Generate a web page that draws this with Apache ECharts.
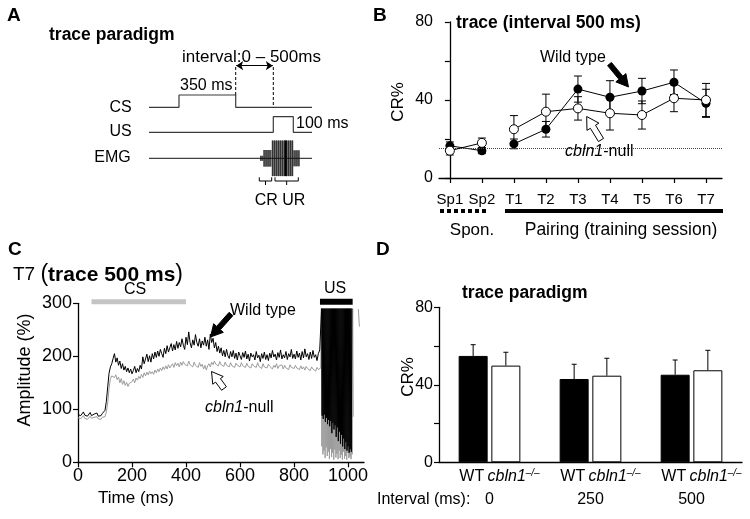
<!DOCTYPE html>
<html>
<head>
<meta charset="utf-8">
<script src="https://cdn.jsdelivr.net/npm/echarts@6/dist/echarts.min.js"></script>
<style>
html,body{margin:0;padding:0;background:#fff;}
#chart{width:750px;height:519px;}
</style>
</head>
<body>
<div id="chart"></div>
<script>
// ---------------- Panel A (schematic, arbitrary time units) ----------------
const aCsTimes = [0, 30, 30, 86.7, 86.7, 163];
const aCsLevels = [9.27, 9.27, 10.5, 10.5, 9.27, 9.27];
const aUsTimes = [0, 124.3, 124.3, 144.3, 144.3, 163];
const aUsLevels = [6.77, 6.77, 8.33, 8.33, 6.77, 6.77];
const aEmgTimes = [0, 163];
const aEmgBaseline = 4.17;
const aEmgBurstStart = [111, 114.3, 122.7, 144.3];
const aEmgBurstEnd = [114.3, 122.7, 144.3, 151];
const aEmgBurstAmp = [0.25, 0.83, 1.78, 0.8];
const aEmgPeakTime = 136.7;
const aIntervalTimes = [86.7, 124.3];
const aIntervalTop = 13.3;
const aIntervalBottoms = [10.5, 9.27];
const aArrowLevel = 13.43;

// ---------------- Panel B ----------------
const bCategories = ['Sp1', 'Sp2', 'T1', 'T2', 'T3', 'T4', 'T5', 'T6', 'T7'];
const bWildType = [16.5, 14, 17.5, 25, 45.6, 41.4, 44.6, 49.1, 38.3];
const bWildTypeErr = [2, 1.5, 2.5, 4, 6.7, 8.5, 6.5, 6.3, 7.2];
const bNull = [14, 18, 25, 34, 35.7, 33.2, 32.3, 40.9, 40];
const bNullErr = [2.2, 2.5, 7, 9, 6, 8.6, 7.2, 6.9, 8.5];
const bChanceLevel = 15.5;
const bSponCount = 2;

// ---------------- Panel C (T7 traces, 5 ms samples) ----------------
const cTimeStepMs = 5;
const cWildType = [
  90,93,88,91,95,89,92,87,90,94,88,86,91,89,93,87,90,88,92,95,
  98,115,142,168,180,186,196,205,189,197,183,191,177,186,174,181,171,178,169,176,
  167,173,181,169,177,171,183,176,199,186,195,204,190,201,189,205,195,208,198,210,
  200,213,205,198,215,205,220,208,216,224,210,222,212,228,215,226,218,233,221,213,
  236,222,246,226,216,231,221,241,226,219,233,216,229,221,236,219,231,213,242,226,
  234,216,226,209,219,206,216,201,211,199,213,201,196,209,199,211,196,206,193,208,
  201,194,207,198,210,195,204,191,206,199,203,193,209,197,202,190,205,196,208,194,
  203,192,206,197,211,199,204,193,207,198,212,195,203,197,209,194,205,199,213,196,
  204,195,210,198,206,193,209,197,214,199,205,194,208,196,211,198,203,192,205,212
];
const cNull = [
  84,86,82,85,88,83,86,81,84,87,83,80,85,83,86,82,84,81,85,83,
  86,95,112,140,158,163,166,160,165,156,161,150,158,147,154,145,151,143,149,146,
  152,157,150,159,155,162,158,166,160,169,163,170,165,172,167,171,166,174,169,176,
  171,178,173,180,175,182,176,184,178,181,186,179,188,182,187,180,189,183,190,185,
  188,182,191,184,187,180,189,183,186,179,188,181,185,176,183,174,182,186,180,189,
  184,191,185,188,182,190,184,187,181,189,183,186,180,188,182,185,179,187,183,186,
  180,188,182,185,179,187,181,184,178,186,182,185,179,188,181,184,177,186,180,183,
  178,185,181,184,176,183,179,186,177,182,180,184,176,183,178,181,175,184,179,182,
  177,183,178,181,175,182,176,180,174,181,177,179,173,180,176,178,172,179,175,178
];
// US period (2 ms samples)
const cUsStepMs = 2;
const cUsWildTypeStart = 900;
const cUsWildType = [212,290,88,290,82,290,90,290,76,290,84,290,72,290,80,290,68,290,78,290,
  55,290,74,290,62,290,70,290,48,290,66,290,40,290,58,290,35,290,52,290,
  30,290,45,290,25,290,38,290,22,290,30,290,18,290,25,290,20,290];
const cUsNullStart = 899;
const cUsNull = [178,290,30,290,15,290,22,290,8,290,28,290,12,290,20,290,6,290,25,290,
  10,290,18,290,5,290,24,290,9,290,16,290,6,290,22,290,8,290,14,290,
  5,290,20,290,7,290,12,290,5,290,18,290,8,290,11,290,6,290,15,290,86];
const cNullTailTimes = [1038, 1042];
const cNullTailValues = [289, 256];
const cCsBar = [50, 400];
const cUsBar = [896, 1017];
const cStimLevel = 303;
const cTicks = [0, 200, 400, 600, 800, 1000];

// ---------------- Panel D ----------------
const dIntervals = ['0', '250', '500'];
const dWildType = [54.9, 43, 45.2];
const dWildTypeErr = [5.8, 7.6, 7.6];
const dNull = [49.9, 44.7, 47.5];
const dNullErr = [6.9, 9, 10.3];

// ---------------------------------------------------------------
const FONT = '"Liberation Sans", Arial, Helvetica, sans-serif';
const chart = echarts.init(document.getElementById('chart'), null, {renderer: 'canvas'});

function zip(xs, ys) { return xs.map((x, i) => [x, ys[i]]); }

function arrowPts(tail, tip, shaftW, headW, headL) {
  const dx = tip[0] - tail[0], dy = tip[1] - tail[1];
  const L = Math.hypot(dx, dy), ux = dx / L, uy = dy / L, nx = -uy, ny = ux;
  const bx = tip[0] - ux * headL, by = tip[1] - uy * headL;
  return [
    [tail[0] + nx * shaftW / 2, tail[1] + ny * shaftW / 2],
    [bx + nx * shaftW / 2, by + ny * shaftW / 2],
    [bx + nx * headW / 2, by + ny * headW / 2],
    tip,
    [bx - nx * headW / 2, by - ny * headW / 2],
    [bx - nx * shaftW / 2, by - ny * shaftW / 2],
    [tail[0] - nx * shaftW / 2, tail[1] - ny * shaftW / 2]
  ];
}
function arrow(tail, tip, filled, shaftW, headW, headL) {
  return {type: 'polygon', z: 100, shape: {points: arrowPts(tail, tip, shaftW, headW, headL)},
    style: {fill: filled ? '#000' : '#fff', stroke: '#000', lineWidth: 1}};
}
function txt(text, x, y, size, opts) {
  opts = opts || {};
  const font = (opts.italic ? 'italic ' : '') + (opts.bold ? 'bold ' : '') + size + 'px ' + FONT;
  const el = {type: 'text', z: 100, x: x, y: y, rotation: opts.rotation || 0,
    style: {text: text, x: 0, y: 0, font: font, fill: '#000',
      align: opts.align || 'left', textAlign: opts.align || 'left',
      verticalAlign: 'middle', textVerticalAlign: 'middle'}};
  if (opts.rich) el.style.rich = opts.rich;
  return el;
}
function line(x1, y1, x2, y2, w, dash) {
  return {type: 'line', z: 100, shape: {x1, y1, x2, y2},
    style: {stroke: '#000', lineWidth: w, lineDash: dash || null}};
}
function bracket(x0, x1) {
  return {type: 'polyline', z: 100, shape: {points: [[x0, 177.3], [x0, 181], [x1, 181], [x1, 177.3]]},
    style: {stroke: '#000', lineWidth: 1, fill: null}};
}
function bracketTick(x0, x1) {
  const xm = (x0 + x1) / 2;
  return line(xm, 181, xm, 185, 1);
}

const nullRich = {
  i: {fontStyle: 'italic', fontSize: 16, fontFamily: FONT, fill: '#000', color: '#000'},
  n: {fontSize: 16, fontFamily: FONT, fill: '#000', color: '#000'}
};

const axisLineStyle = {show: true, lineStyle: {color: '#000', width: 1.3}};
const axisTickStyle = {show: true, length: 5, lineStyle: {color: '#000', width: 1.2}};

// Panel B line data with a break between spontaneous and pairing sessions
function bLineData(vals) {
  const out = [];
  vals.forEach((v, i) => {
    if (i === bSponCount) out.push([i - 0.5, '-']);
    out.push([i, v]);
  });
  return out;
}
function bErrItem(params, api) {
  const x = api.value(0), v = api.value(1), e = api.value(2);
  const t = api.coord([x, v + e]), b = api.coord([x, v - e]);
  const hw = 4;
  const st = {stroke: '#000', lineWidth: 1};
  return {type: 'group', children: [
    {type: 'line', shape: {x1: t[0], y1: t[1], x2: b[0], y2: b[1]}, style: st},
    {type: 'line', shape: {x1: t[0] - hw, y1: t[1], x2: t[0] + hw, y2: t[1]}, style: st},
    {type: 'line', shape: {x1: b[0] - hw, y1: b[1], x2: b[0] + hw, y2: b[1]}, style: st}
  ]};
}
const dBarWidth = 29, dBarGap = 3.7;
function dErrItem(params, api) {
  const c = api.value(0), v = api.value(1), e = api.value(2), side = api.value(3);
  const base = api.coord([c, v]), top = api.coord([c, v + e]);
  const x = base[0] + side * (dBarWidth + dBarGap) / 2;
  const st = {stroke: '#000', lineWidth: 1};
  return {type: 'group', children: [
    {type: 'line', shape: {x1: x, y1: base[1], x2: x, y2: top[1]}, style: st},
    {type: 'line', shape: {x1: x - 2.5, y1: top[1], x2: x + 2.5, y2: top[1]}, style: st}
  ]};
}
function emgItem(params, api) {
  const s = api.value(0), e = api.value(1), amp = api.value(2);
  const p0 = api.coord([s, aEmgBaseline + amp]);
  const p1 = api.coord([e, aEmgBaseline - amp]);
  const children = [{type: 'rect', shape: {x: p0[0], y: p0[1], width: p1[0] - p0[0], height: p1[1] - p0[1]},
    style: {fill: '#6e6e6e'}}];
  for (let x = p0[0] + 0.8; x < p1[0]; x += 2) {
    children.push({type: 'line', shape: {x1: x, y1: p0[1], x2: x, y2: p1[1]}, style: {stroke: '#2c2c2c', lineWidth: 0.9}});
  }
  return {type: 'group', children};
}

function traceData(vals, usStart, usVals) {
  const d = vals.map((v, i) => [i * cTimeStepMs, v]);
  usVals.forEach((v, i) => d.push([usStart + i * cUsStepMs, v]));
  return d;
}
const cNullData = traceData(cNull, cUsNullStart, cUsNull);
cNullData.push([(cUsNullStart + (cUsNull.length) * cUsStepMs + cNullTailTimes[0]) / 2, '-']);
cNullTailTimes.forEach((t, i) => cNullData.push([t, cNullTailValues[i]]));
const cWildData = traceData(cWildType, cUsWildTypeStart, cUsWildType);

const option = {
  animation: false,
  backgroundColor: '#fff',
  textStyle: {fontFamily: FONT, color: '#000'},
  grid: [
    {left: 149, top: 60, width: 163, height: 140},
    {left: 439, top: 22, width: 283, height: 156},
    {left: 78, top: 303.3, width: 286, height: 159},
    {left: 439, top: 307.3, width: 303, height: 155}
  ],
  xAxis: [
    {gridIndex: 0, type: 'value', min: 0, max: 163, show: false},
    {gridIndex: 1, type: 'value', min: -0.34, max: 8.5,
      axisLine: axisLineStyle, splitLine: {show: false},
      axisTick: Object.assign({}, axisTickStyle, {customValues: bCategories.map((c, i) => i)}),
      axisLabel: {customValues: bCategories.map((c, i) => i), formatter: v => bCategories[Math.round(v)],
        fontSize: 15, color: '#000', margin: 14, fontFamily: FONT}},
    {gridIndex: 2, type: 'value', min: 0, max: 1059,
      axisLine: axisLineStyle, splitLine: {show: false},
      axisTick: Object.assign({}, axisTickStyle, {customValues: cTicks}),
      axisLabel: {customValues: cTicks, formatter: v => String(v), fontSize: 18, color: '#000', margin: 5, fontFamily: FONT}},
    {gridIndex: 3, type: 'category', data: dIntervals,
      axisLine: axisLineStyle, axisTick: {show: false},
      axisLabel: {margin: 3, color: '#000', fontFamily: FONT, interval: 0, hideOverlap: false,
        formatter: v => '{wt|WT} {ko|cbln1}{sup|\u2013/\u2013}\n{iv|' + v + '}',
        rich: {
          wt: {fontSize: 16, lineHeight: 23, fontFamily: FONT, color: '#000', padding: [0, 0, 0, 20]},
          ko: {fontSize: 16, lineHeight: 23, fontStyle: 'italic', fontFamily: FONT, color: '#000'},
          sup: {fontSize: 10, lineHeight: 23, verticalAlign: 'top', fontStyle: 'italic', fontFamily: FONT, color: '#000', padding: [3, 0, 0, 0]},
          iv: {fontSize: 16, lineHeight: 23, fontFamily: FONT, color: '#000'}
        }}}
  ],
  yAxis: [
    {gridIndex: 0, type: 'value', min: 0, max: 14, show: false},
    {gridIndex: 1, type: 'value', min: 0, max: 80, interval: 20,
      axisLine: axisLineStyle, axisTick: axisTickStyle, splitLine: {show: false},
      axisLabel: {formatter: v => (v % 40 === 0 ? String(v) : ''), fontSize: 16, color: '#000', margin: 6, fontFamily: FONT}},
    {gridIndex: 2, type: 'value', min: 0, max: 300, interval: 100,
      axisLine: axisLineStyle, axisTick: axisTickStyle, splitLine: {show: false},
      axisLabel: {fontSize: 18, color: '#000', margin: 6, fontFamily: FONT}},
    {gridIndex: 3, type: 'value', min: 0, max: 80, interval: 20,
      axisLine: axisLineStyle, axisTick: axisTickStyle, splitLine: {show: false},
      axisLabel: {formatter: v => (v % 40 === 0 ? String(v) : ''), fontSize: 16, color: '#000', margin: 6, fontFamily: FONT}}
  ],
  series: [
    // ---- A ----
    {type: 'line', xAxisIndex: 0, yAxisIndex: 0, data: zip(aCsTimes, aCsLevels), symbol: 'none', silent: true,
      lineStyle: {color: '#3a3a3a', width: 1.2}},
    {type: 'line', xAxisIndex: 0, yAxisIndex: 0, data: zip(aUsTimes, aUsLevels), symbol: 'none', silent: true,
      lineStyle: {color: '#3a3a3a', width: 1.2}},
    {type: 'custom', xAxisIndex: 0, yAxisIndex: 0, silent: true, z: 2,
      data: aEmgBurstStart.map((s, i) => [s, aEmgBurstEnd[i], aEmgBurstAmp[i]]), renderItem: emgItem},
    {type: 'line', xAxisIndex: 0, yAxisIndex: 0, symbol: 'none', silent: true, z: 3,
      data: [[aEmgPeakTime, aEmgBaseline + aEmgBurstAmp[2]], [aEmgPeakTime, aEmgBaseline - aEmgBurstAmp[2]]],
      lineStyle: {color: '#000', width: 2}},
    {type: 'line', xAxisIndex: 0, yAxisIndex: 0, symbol: 'none', silent: true, z: 4,
      data: aEmgTimes.map(t => [t, aEmgBaseline]), lineStyle: {color: '#111', width: 1}},
    {type: 'line', xAxisIndex: 0, yAxisIndex: 0, symbol: 'none', silent: true,
      data: [[aIntervalTimes[0], aIntervalTop], [aIntervalTimes[0], aIntervalBottoms[0]],
             [(aIntervalTimes[0] + aIntervalTimes[1]) / 2, '-'],
             [aIntervalTimes[1], aIntervalTop], [aIntervalTimes[1], aIntervalBottoms[1]]],
      lineStyle: {color: '#000', width: 1, type: [3, 2]},
      markLine: {silent: true, symbol: ['arrow', 'arrow'], symbolSize: 7, label: {show: false},
        lineStyle: {color: '#000', width: 1, type: 'solid'},
        data: [[{coord: [aIntervalTimes[0] + 0.5, aArrowLevel]}, {coord: [aIntervalTimes[1] - 0.5, aArrowLevel]}]]}},
    // ---- B ----
    {type: 'custom', xAxisIndex: 1, yAxisIndex: 1, silent: true, z: 2,
      data: bWildType.map((v, i) => [i, v, bWildTypeErr[i]]), renderItem: bErrItem},
    {type: 'line', xAxisIndex: 1, yAxisIndex: 1, data: bLineData(bWildType), z: 3,
      symbol: 'circle', symbolSize: 9, itemStyle: {color: '#000'}, lineStyle: {color: '#000', width: 1},
      markLine: {silent: true, symbol: 'none', label: {show: false},
        lineStyle: {type: 'dotted', color: '#444', width: 1}, data: [{yAxis: bChanceLevel}]}},
    {type: 'custom', xAxisIndex: 1, yAxisIndex: 1, silent: true, z: 4,
      data: bNull.map((v, i) => [i, v, bNullErr[i]]), renderItem: bErrItem},
    {type: 'line', xAxisIndex: 1, yAxisIndex: 1, data: bLineData(bNull), z: 5,
      symbol: 'circle', symbolSize: 9, itemStyle: {color: '#fff', borderColor: '#000', borderWidth: 1},
      lineStyle: {color: '#000', width: 1}},
    // ---- C ----
    {type: 'line', xAxisIndex: 2, yAxisIndex: 2, data: cNullData, symbol: 'none', silent: true, z: 2,
      lineStyle: {color: '#9c9c9c', width: 1}},
    {type: 'line', xAxisIndex: 2, yAxisIndex: 2, data: cWildData, symbol: 'none', silent: true, z: 3,
      lineStyle: {color: '#000', width: 1}},
    {type: 'line', xAxisIndex: 2, yAxisIndex: 2, data: cCsBar.map(t => [t, cStimLevel]), symbol: 'none', silent: true,
      clip: false, lineStyle: {color: '#c4c4c4', width: 5, cap: 'butt'}},
    {type: 'line', xAxisIndex: 2, yAxisIndex: 2, data: cUsBar.map(t => [t, cStimLevel]), symbol: 'none', silent: true,
      clip: false, lineStyle: {color: '#000', width: 6, cap: 'butt'}},
    // ---- D ----
    {type: 'bar', xAxisIndex: 3, yAxisIndex: 3, data: dWildType, barWidth: dBarWidth, barGap: (dBarGap / dBarWidth * 100) + '%',
      itemStyle: {color: '#000', borderColor: '#000', borderWidth: 1}, silent: true},
    {type: 'bar', xAxisIndex: 3, yAxisIndex: 3, data: dNull, barWidth: dBarWidth,
      itemStyle: {color: '#fff', borderColor: '#000', borderWidth: 1}, silent: true},
    {type: 'custom', xAxisIndex: 3, yAxisIndex: 3, silent: true, z: 5,
      data: dWildType.map((v, i) => [i, v, dWildTypeErr[i], -1]).concat(dNull.map((v, i) => [i, v, dNullErr[i], 1])),
      renderItem: dErrItem}
  ],
  graphic: [
    // Panel A text
    txt('A', 7, 16, 19, {bold: true}),
    txt('trace paradigm', 49, 35, 17.5, {bold: true}),
    txt('interval:0 \u2013 500ms', 182, 57, 17),
    txt('350 ms', 180, 85.5, 16),
    txt('CS', 131.7, 107.5, 16, {align: 'right'}),
    txt('US', 131.7, 132, 16, {align: 'right'}),
    txt('EMG', 130.7, 158, 16, {align: 'right'}),
    txt('100 ms', 296, 124, 16),
    bracket(259.3, 271.7), bracketTick(259.3, 271.7),
    bracket(275, 298.3), bracketTick(275, 298.3),
    txt('CR UR', 280, 201, 16, {align: 'center'}),
    // Panel B text
    txt('B', 373, 16, 19, {bold: true}),
    txt('trace (interval 500 ms)', 456, 23, 17.5, {bold: true}),
    txt('Wild type', 540, 58, 16),
    txt('{i|cbln1}{n|-null}', 565, 152, 16, {rich: nullRich}),
    txt('CR%', 398, 102, 17, {align: 'center', rotation: Math.PI / 2}),
    arrow([609.5, 64], [628.5, 87], true, 5, 13, 12),
    arrow([601, 140], [586.7, 116.5], false, 6, 14, 12),
    line(440, 211, 488, 211, 4, [4, 3]),
    line(505, 211, 723, 211, 4),
    txt('Spon.', 472, 230, 17, {align: 'center'}),
    txt('Pairing (training session)', 621, 230, 17.5, {align: 'center'}),
    // Panel C text
    txt('C', 8, 250, 19, {bold: true}),
    txt('{a|T7 }{p|(}{b|trace 500 ms}{p|)}', 13, 275, 18, {rich: {
      a: {fontSize: 19, fontFamily: FONT, fill: '#000', color: '#000'},
      p: {fontSize: 23, fontFamily: FONT, fill: '#000', color: '#000'},
      b: {fontSize: 21, fontWeight: 'bold', fontFamily: FONT, fill: '#000', color: '#000'}}}),
    txt('CS', 135, 290, 16, {align: 'center'}),
    txt('US', 335, 289, 16, {align: 'center'}),
    txt('Wild type', 230, 311, 16),
    txt('{i|cbln1}{n|-null}', 205, 408, 16, {rich: nullRich}),
    arrow([231, 314], [210.5, 337], true, 5, 13, 12),
    arrow([224, 388.5], [211.5, 371.5], false, 6, 13, 11),
    txt('Amplitude (%)', 25, 370, 18, {align: 'center', rotation: Math.PI / 2}),
    txt('Time (ms)', 136, 498, 17, {align: 'center'}),
    // Panel D text
    txt('D', 376, 250, 19, {bold: true}),
    txt('trace paradigm', 462, 293, 17.5, {bold: true}),
    txt('CR%', 408, 377, 17, {align: 'center', rotation: Math.PI / 2}),
    txt('Interval (ms):', 377, 500, 16)
  ]
};
chart.setOption(option);
</script>
</body>
</html>
